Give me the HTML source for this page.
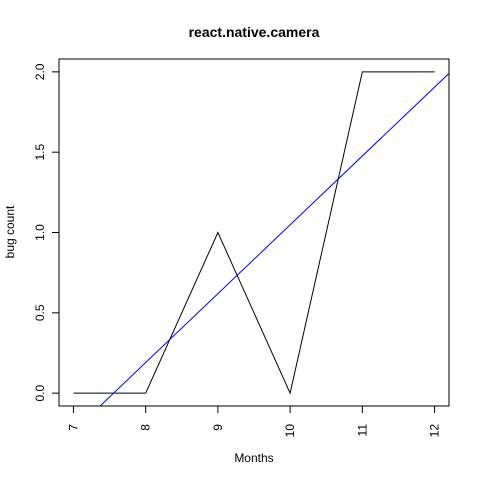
<!DOCTYPE html>
<html><head><meta charset="utf-8"><style>body{margin:0;background:#fff}svg{display:block;font-family:"Liberation Sans",Arial,sans-serif}</style></head>
<body>
<svg width="480" height="480" viewBox="0 0 480 480">
<rect width="480" height="480" fill="#fff"/>
<text x="254" y="37" text-anchor="middle" font-weight="bold" font-size="14">react.native.camera</text>
<rect x="59" y="59" width="390" height="347" fill="none" stroke="#000"/>
<g id="xaxis"></g>
<g id="yaxis"></g>
<text x="254" y="462" text-anchor="middle" font-size="12">Months</text>
<text transform="translate(14,232) rotate(-90)" text-anchor="middle" font-size="12">bug count</text>
<defs><clipPath id="clip"><rect x="59" y="59" width="390" height="347"/></clipPath></defs>
<g id="series" clip-path="url(#clip)"></g>
</svg>
<script>
const months = [7, 8, 9, 10, 11, 12];
const bugCounts = [0, 0, 1, 0, 2, 2];
const xTicks = [7, 8, 9, 10, 11, 12];
const yTicks = [0, 0.5, 1, 1.5, 2];
const yTickLabels = ["0.0", "0.5", "1.0", "1.5", "2.0"];
const NS = "http://www.w3.org/2000/svg";
const xmin = 6.8, xmax = 12.2, ymin = -0.08, ymax = 2.08;
const sx = v => 59 + (v - xmin) / (xmax - xmin) * 390;
const sy = v => 406 - (v - ymin) / (ymax - ymin) * 347;
function mk(tag, attrs, parent) { const e = document.createElementNS(NS, tag); for (const k in attrs) e.setAttribute(k, attrs[k]); parent.appendChild(e); return e; }
const xa = document.getElementById('xaxis'), ya = document.getElementById('yaxis'), sg = document.getElementById('series');
mk('line', {x1: sx(xTicks[0]), x2: sx(xTicks[xTicks.length-1]), y1: 406, y2: 406, stroke: '#000'}, xa);
xTicks.forEach(t => {
  const l = mk('line', {x1: sx(t), x2: sx(t), y1: 406, y2: 413, stroke: '#000'}, xa);
  
  
  const tx = mk('text', {transform: `translate(${sx(t)+4},424) rotate(-90)`, 'text-anchor': 'end', 'font-size': 12}, xa);
  tx.textContent = t;
  
  
});
mk('line', {x1: 59, x2: 59, y1: sy(yTicks[0]), y2: sy(yTicks[yTicks.length-1]), stroke: '#000'}, ya);
yTicks.forEach((t, i) => {
  const l = mk('line', {x1: 52, x2: 59, y1: sy(t), y2: sy(t), stroke: '#000'}, ya);
  
  
  const tx = mk('text', {transform: `translate(44,${sy(t)}) rotate(-90)`, 'text-anchor': 'middle', 'font-size': 12}, ya);
  tx.textContent = yTickLabels[i];
  
  
});
const pl = mk('polyline', {points: months.map((m, i) => sx(m) + ',' + sy(bugCounts[i])).join(' '), fill: 'none', stroke: '#000'}, sg);


const n = months.length, mx = months.reduce((a, b) => a + b) / n, my = bugCounts.reduce((a, b) => a + b) / n;
let sxy = 0, sxx = 0; months.forEach((m, i) => { sxy += (m - mx) * (bugCounts[i] - my); sxx += (m - mx) ** 2; });
const b = sxy / sxx, a = my - b * mx;
const rl = mk('line', {x1: sx(xmin), y1: sy(a + b * xmin), x2: sx(xmax), y2: sy(a + b * xmax), stroke: '#0000ff'}, sg);


</script>
</body></html>
